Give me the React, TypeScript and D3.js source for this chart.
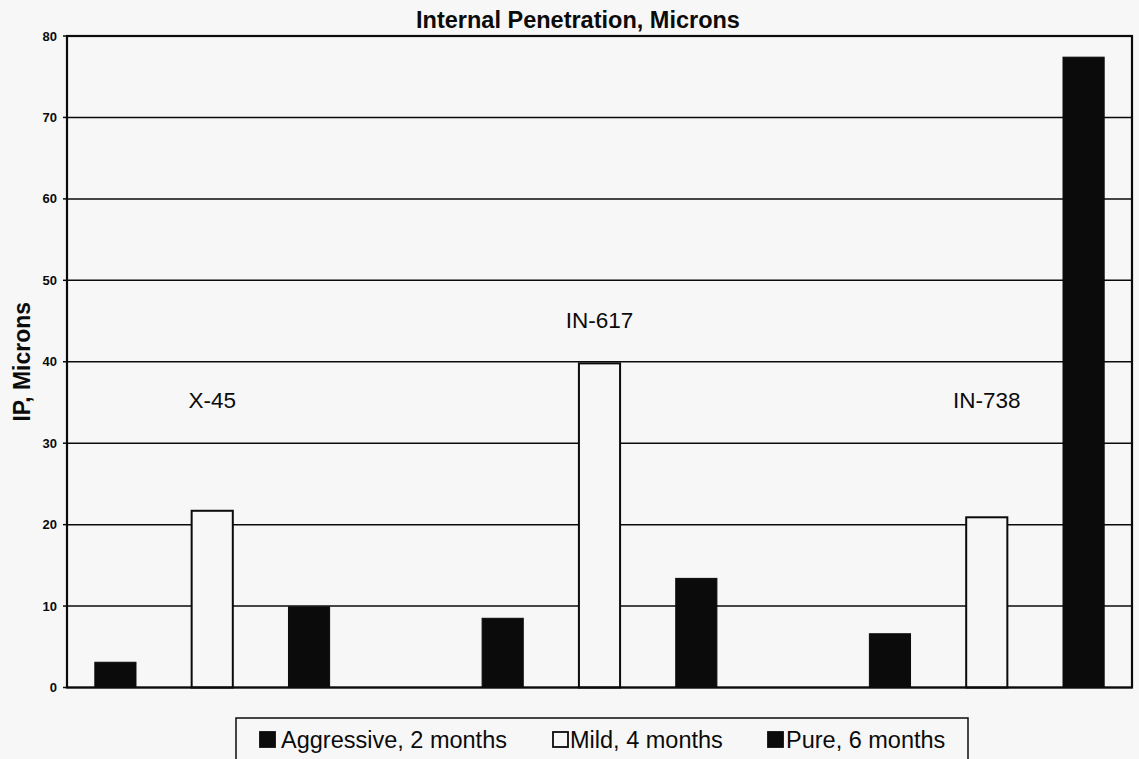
import React from "react";
import * as d3 from "d3";

// Alloys, exposure series and measured internal penetration (microns)
const alloys = ["X-45", "IN-617", "IN-738"];
const seriesNames = ["Aggressive, 2 months", "Mild, 4 months", "Pure, 6 months"];
const aggressive = [3.1, 8.5, 6.6];
const mild = [21.7, 39.8, 20.9];
const pure = [9.9, 13.4, 77.4];
const alloyLabelLevel = [34.3, 44.1, 34.3];
const yTicks = [0, 10, 20, 30, 40, 50, 60, 70, 80];

const W = 1139;
const H = 759;
const BG = "#f7f7f7";
const INK = "#0b0b0b";
const seriesFill = [INK, BG, INK];

const margin = { left: 67, right: 7, top: 36, bottom: 72 };

export default function App() {
  const x0 = margin.left;
  const x1 = W - margin.right;
  const yTop = margin.top;
  const yBot = H - margin.bottom + 0.5;

  const y = d3.scaleLinear().domain([0, 80]).range([yBot, yTop]);
  const xAlloy = d3.scaleBand<string>().domain(alloys).range([x0, x1]).paddingInner(0.25).paddingOuter(0);
  const xSeries = d3
    .scaleBand<string>()
    .domain(seriesNames)
    .range([0, xAlloy.bandwidth()])
    .paddingInner(0.575)
    .paddingOuter(0.2875);

  const values = [aggressive, mild, pure];

  const font = "Arial, 'Liberation Sans', Helvetica, sans-serif";

  // legend layout
  const legendItems = [
    { name: seriesNames[0], mx: 260, tx: 281 },
    { name: seriesNames[1], mx: 553, tx: 570 },
    { name: seriesNames[2], mx: 768, tx: 786 },
  ];

  return (
    <svg
      width={W}
      height={H}
      style={{ position: "absolute", left: 0, top: 0, background: BG }}
      fontFamily={font}
    >
      <rect width={W} height={H} fill={BG} />

      {/* title */}
      <text x={578} y={28} textAnchor="middle" fontSize={23.5} fontWeight="bold" fill={INK}>
        Internal Penetration, Microns
      </text>

      {/* gridlines */}
      {yTicks.map((t) => (
        <line key={"g" + t} x1={x0} x2={x1} y1={y(t)} y2={y(t)} stroke={INK} strokeWidth={1.5} />
      ))}

      {/* bars */}
      {alloys.map((a, ai) =>
        seriesNames.map((s, si) => {
          const v = values[si][ai];
          const bx = (xAlloy(a) as number) + (xSeries(s) as number);
          return (
            <rect
              key={a + s}
              x={bx}
              y={y(v)}
              width={xSeries.bandwidth()}
              height={yBot - y(v)}
              fill={seriesFill[si]}
              stroke={INK}
              strokeWidth={si === 1 ? 2 : 1}
            />
          );
        })
      )}

      {/* plot frame */}
      <rect x={x0} y={yTop} width={x1 - x0} height={yBot - yTop} fill="none" stroke={INK} strokeWidth={2.2} />

      {/* y ticks */}
      {yTicks.map((t) => (
        <g key={"t" + t}>
          <line x1={x0 - 4} x2={x0} y1={y(t)} y2={y(t)} stroke={INK} strokeWidth={1.5} />
          <text x={57} y={y(t) + 4.5} textAnchor="end" fontSize={13} fontWeight="bold" fill={INK}>
            {t}
          </text>
        </g>
      ))}

      {/* y axis title */}
      <text
        transform={`translate(30, ${(yTop + yBot) / 2}) rotate(-90)`}
        textAnchor="middle"
        fontSize={23}
        fontWeight="bold"
        fill={INK}
      >
        IP, Microns
      </text>

      {/* alloy labels */}
      {alloys.map((a, ai) => (
        <text
          key={"l" + a}
          x={(xAlloy(a) as number) + (xSeries(seriesNames[1]) as number) + xSeries.bandwidth() / 2}
          y={y(alloyLabelLevel[ai])}
          textAnchor="middle"
          fontSize={22.5}
          fill={INK}
        >
          {a}
        </text>
      ))}

      {/* legend */}
      <rect x={236} y={718} width={732} height={60} fill="none" stroke={INK} strokeWidth={1.5} />
      {legendItems.map((it, i) => (
        <g key={"lg" + i}>
          <rect x={it.mx} y={732} width={15} height={15} fill={seriesFill[i]} stroke={INK} strokeWidth={1.8} />
          <text x={it.tx} y={748} fontSize={23.5} fill={INK}>
            {it.name}
          </text>
        </g>
      ))}
    </svg>
  );
}
